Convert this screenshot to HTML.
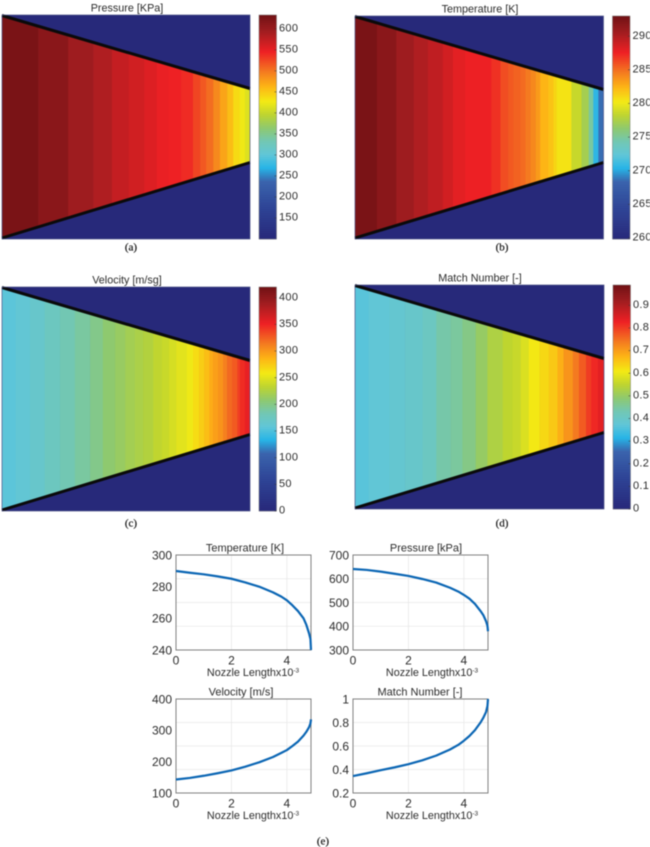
<!DOCTYPE html>
<html lang="en">
<head>
<meta charset="utf-8">
<title>Nozzle flow charts</title>
<style>
html,body{margin:0;padding:0;background:#fff;width:650px;height:847px;overflow:hidden}
svg{display:block;filter:blur(.5px)}
text{font-family:"Liberation Sans",sans-serif;fill:#2c2c2c}
.cap{font-family:"Liberation Serif",serif;font-size:11px;fill:#111;stroke:#111;stroke-width:.2px}
</style>
</head>
<body>
<svg id="fig" width="650" height="847" viewBox="0 0 650 847" xmlns="http://www.w3.org/2000/svg"></svg>
<script>
// Shared data
const lengthSamples = [0,0.5,1,1.5,2,2.5,3,3.5,3.8,4,4.2,4.4,4.6,4.7,4.8,4.85,4.87];
const temperatureCurve = [289.9,288.8,287.8,286.5,285,282.7,280,276.4,273.7,271.4,268.2,264.6,260,256,250.5,247,240];
const pressureCurve = [641,637,630,621,612,599,584,562,546,532,516,494,464,447,421,402,379];
const velocityCurve = [143,148,155,163,172,184,198,215,228,237,250,264,283,295,310,322,335];
const machCurve = [0.344,0.368,0.394,0.418,0.445,0.478,0.518,0.57,0.61,0.645,0.685,0.735,0.80,0.84,0.89,0.94,1.0];

const tempTicks = [240,260,280,300];
const pressTicks = [300,400,500,600,700];
const velTicks = [100,200,300,400];
const machTicks = [0.2,0.4,0.6,0.8,1];
const lengthTicks = [0,2,4];

// Contour bands: right edge of each band (nozzle length) and the band value
const pressureEdges = [0.71,1.30,1.79,2.16,2.49,2.79,3.04,3.26,3.52,3.75,3.89,4.01,4.15,4.28,4.42,4.54,4.67,4.77,4.87];
const pressureBands = [625,612,596,585,572,564,556,548,545,540,526,516,505,489,473,457,438,425,414];
const temperatureEdges = [0.43,0.81,1.15,1.43,1.72,1.92,2.16,2.67,2.85,3.0,3.10,3.24,3.34,3.44,3.54,3.63,3.79,3.89,3.95,4.24,4.44,4.58,4.67,4.77,4.87];
const temperatureBands = [292.5,291.7,290.7,290,289.4,288.7,288,287.6,287,286.1,285.7,285.4,285.1,284.6,284.1,283.4,282.4,281.8,281.1,280.5,278.6,277.2,274.9,270.6,268.6];
const velocityEdges = [0.27,0.55,0.84,1.14,1.43,1.73,1.98,2.22,2.42,2.61,2.77,2.97,3.14,3.28,3.42,3.63,3.75,3.87,3.97,4.07,4.14,4.24,4.34,4.42,4.52,4.62,4.67,4.77,4.87];
const velocityBands = [156,161,167,175,183,190,198,208,213,219,223,227,234,238,244,250,256,265,273,281,290,296,302,311,321,327,338,346,354];
const machEdges = [0.27,0.67,0.98,1.32,1.59,1.87,2.10,2.36,2.59,2.89,3.08,3.24,3.40,3.61,3.79,3.96,4.08,4.26,4.38,4.52,4.62,4.75,4.87];
const machBands = [0.365,0.375,0.385,0.395,0.41,0.44,0.45,0.47,0.50,0.53,0.55,0.56,0.58,0.61,0.63,0.65,0.68,0.71,0.74,0.77,0.80,0.82,0.84];

const pressureBarTicks = [150,200,250,300,350,400,450,500,550,600];
const temperatureBarTicks = [260,265,270,275,280,285,290];
const velocityBarTicks = [0,50,100,150,200,250,300,350,400];
const machBarTicks = [0,0.1,0.2,0.3,0.4,0.5,0.6,0.7,0.8,0.9];

const cmapPos = [0,0.14,0.257,0.316,0.376,0.435,0.495,0.554,0.614,0.68,0.747,0.836,0.926,1];
const cmapCol = [[39,40,122],[46,68,150],[58,100,173],[39,180,230],[96,198,216],[114,199,180],[142,201,111],[189,212,48],[243,234,20],[253,181,21],[244,122,32],[238,32,36],[161,29,32],[112,17,20]];

const NOZZLE_MAX = 4.87;
const svg = document.getElementById('fig');
const NS = 'http://www.w3.org/2000/svg';

function put(parent, tag, props, txt){
  const el = document.createElementNS(NS, tag);
  for (const k in props) el.setAttribute(k, props[k]);
  if (txt !== undefined) el.textContent = txt;
  parent.appendChild(el);
  return el;
}
function group(parent, name){
  const g = document.createElementNS(NS, 'g');
  
  
  parent.appendChild(g);
  return g;
}
function colorAt(t){
  t = Math.max(0, Math.min(1, t));
  let i = 0;
  while (i < cmapPos.length - 2 && t > cmapPos[i + 1]) i++;
  const f = (t - cmapPos[i]) / (cmapPos[i + 1] - cmapPos[i]);
  const c = cmapCol[i].map((v, j) => Math.round(v + (cmapCol[i + 1][j] - v) * f));
  return 'rgb(' + c.join(',') + ')';
}

function heatPanel(o){
  const g = group(svg, o.name + '-contour-panel');
  const w = o.x1 - o.x0, h = o.y1 - o.y0;
  const xs = v => o.x0 + v / NOZZLE_MAX * w;
  const t = v => (v - o.min) / (o.max - o.min);

  const title = put(g, 'text', {x:o.tx, y:o.y0 - 3.5, 'text-anchor':'middle', 'font-size':10.8}, o.title);
  
  

  const bg = put(g, 'rect', {x:o.x0, y:o.y0, width:w, height:h, fill:'#27297a'});
  
  

  const topIn = o.y0 + 0.5, botIn = o.y1 - 1;
  const topOut = o.y0 + 73.5, botOut = o.y1 - 76.5;
  const cid = o.name + '-clip';
  const defs = put(g, 'defs', {});
  const cp = put(defs, 'clipPath', {id:cid});
  put(cp, 'polygon', {points:[o.x0,topIn,o.x1,topOut,o.x1,botOut,o.x0,botIn].join(' ')});
  const bands = put(g, 'g', {'clip-path':'url(#' + cid + ')'});
  
  
  let prev = 0;
  o.bands.forEach((v, i) => {
    const a = xs(prev), b = xs(o.edges[i]);
    const r = put(bands, 'rect', {x:a, y:o.y0, width:b - a + 0.3, height:h, fill:colorAt(t(v))});
    
    
    prev = o.edges[i];
  });

  const wallTop = put(g, 'line', {x1:o.x0, y1:topIn, x2:o.x1, y2:topOut, stroke:'#0a0a0a', 'stroke-width':3});
  
  
  const wallBot = put(g, 'line', {x1:o.x0, y1:botIn, x2:o.x1, y2:botOut, stroke:'#0a0a0a', 'stroke-width':3});
  
  
  const frame = put(g, 'rect', {x:o.x0, y:o.y0, width:w, height:h, fill:'none', stroke:'#4d5588', 'stroke-width':0.7});
  
  

  const bar = group(g, 'colorbar');
  const STEPS = 112;
  for (let i = 0; i < STEPS; i++){
    const y = o.y0 + h * i / STEPS;
    const r = put(bar, 'rect', {x:o.bx, y:y, width:17.5, height:h / STEPS + 0.3, fill:colorAt(1 - (i + 0.5) / STEPS)});
    
    
  }
  const bf = put(bar, 'rect', {x:o.bx, y:o.y0, width:17.5, height:h, fill:'none', stroke:'#777', 'stroke-width':0.5});
  
  
  const ys = v => o.y1 - t(v) * h;
  o.ticks.forEach(v => {
    const y = ys(v);
    const k = put(bar, 'line', {x1:o.bx + 15.5, y1:y, x2:o.bx + 17.5, y2:y, stroke:'#333', 'stroke-width':0.5});
    
    
    const l = put(bar, 'text', {x:o.bx + 20, y:y + 2.6, 'font-size':11, 'letter-spacing':0.3}, String(v));
    
    
  });

  const cap = put(g, 'text', {x:o.cx, y:o.cy, 'text-anchor':'middle', class:'cap'}, o.cap);
  
  
}

function linePanel(o){
  const g = group(svg, o.name + '-line-chart');
  const w = o.x1 - o.x0, h = o.y1 - o.y0;
  const xs = v => o.x0 + v / NOZZLE_MAX * w;
  const ys = v => o.y1 - (v - o.min) / (o.max - o.min) * h;

  [0.25,0.5,0.75].forEach(f => {
    const gl = put(g, 'line', {x1:o.x0, x2:o.x1, y1:o.y1 - h * f, y2:o.y1 - h * f, stroke:'#e8e8e8', 'stroke-width':0.8});
    
    
  });
  lengthTicks.forEach(v => {
    if (v > 0){
      const gl = put(g, 'line', {x1:xs(v), x2:xs(v), y1:o.y0, y2:o.y1, stroke:'#e8e8e8', 'stroke-width':0.8});
      
      
    }
    const l = put(g, 'text', {x:xs(v), y:o.y1 + 14.5, 'text-anchor':'middle', 'font-size':12}, String(v));
    
    
  });
  o.ticks.forEach(v => {
    const l = put(g, 'text', {x:o.x0 - 4, y:ys(v) + 4.3, 'text-anchor':'end', 'font-size':12}, String(v));
    
    
  });
  const frame = put(g, 'rect', {x:o.x0, y:o.y0, width:w, height:h, fill:'none', stroke:'#808080', 'stroke-width':1});
  
  

  const pts = lengthSamples.map((v, i) => xs(v).toFixed(2) + ',' + ys(o.values[i]).toFixed(2)).join(' ');
  const curve = put(g, 'polyline', {points:pts, fill:'none', stroke:'#0b66b4', 'stroke-width':2.2, 'stroke-linejoin':'round'});
  
  

  const title = put(g, 'text', {x:o.tx, y:o.y0 - 3.5, 'text-anchor':'middle', 'font-size':11}, o.title);
  
  
  const xl = put(g, 'text', {x:o.xlx, y:o.y1 + 26, 'text-anchor':'middle', 'font-size':10.8}, 'Nozzle Lengthx10');
  
  
  const sup = put(xl, 'tspan', {'font-size':6.5, dy:-3.5}, '-3');
  
  
}

heatPanel({name:'pressure', title:'Pressure [KPa]', x0:2, x1:250, y0:15, y1:239, bx:259, tx:127, min:100, max:633, edges:pressureEdges, bands:pressureBands, ticks:pressureBarTicks, cap:'(a)', cx:131, cy:250.5});
heatPanel({name:'temperature', title:'Temperature [K]', x0:355, x1:603.5, y0:16, y1:239, bx:612.5, tx:480, min:259.85, max:293, edges:temperatureEdges, bands:temperatureBands, ticks:temperatureBarTicks, cap:'(b)', cx:502, cy:250.5});
heatPanel({name:'velocity', title:'Velocity [m/sg]', x0:2, x1:250, y0:287, y1:511, bx:259, tx:127, min:0, max:420, edges:velocityEdges, bands:velocityBands, ticks:velocityBarTicks, cap:'(c)', cx:131, cy:526.5});
heatPanel({name:'mach', title:'Match Number [-]', x0:355, x1:604, y0:285, y1:509, bx:613, tx:480, min:0, max:0.99, edges:machEdges, bands:machBands, ticks:machBarTicks, cap:'(d)', cx:502, cy:526.5});

linePanel({name:'temperature', title:'Temperature [K]', x0:176, x1:311, y0:555, y1:650, min:240, max:300, values:temperatureCurve, ticks:tempTicks, tx:245, xlx:253});
linePanel({name:'pressure', title:'Pressure [kPa]', x0:353, x1:488, y0:555, y1:650, min:300, max:700, values:pressureCurve, ticks:pressTicks, tx:426, xlx:432});
linePanel({name:'velocity', title:'Velocity [m/s]', x0:176, x1:311, y0:699, y1:793, min:100, max:400, values:velocityCurve, ticks:velTicks, tx:241, xlx:253});
linePanel({name:'mach', title:'Match Number [-]', x0:353, x1:488, y0:699, y1:793, min:0.2, max:1, values:machCurve, ticks:machTicks, tx:420, xlx:432});

const capE = put(svg, 'text', {x:323, y:844.5, 'text-anchor':'middle', class:'cap'}, '(e)');


</script>
</body>
</html>
